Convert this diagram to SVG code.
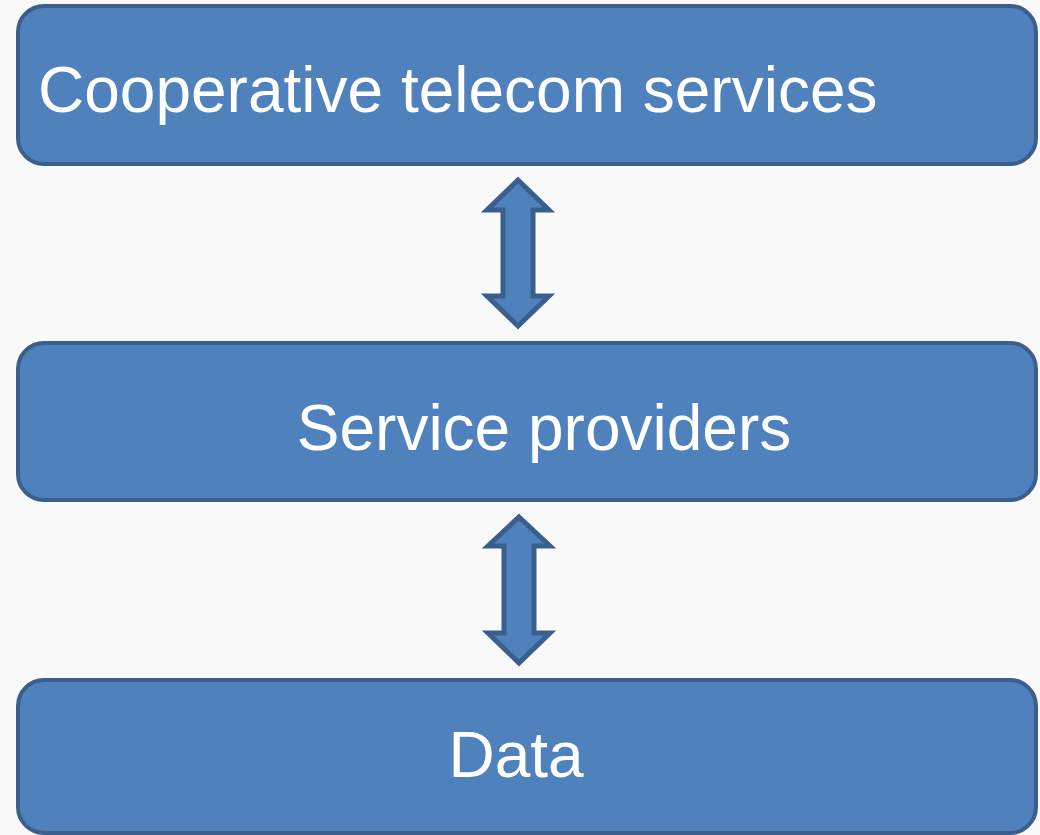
<svg xmlns="http://www.w3.org/2000/svg" width="1040" height="835" viewBox="0 0 1040 835">
<style>
.box{fill:#4f81bd;stroke:#3a5f8d;stroke-width:4}
.arr{fill:#4f81bd;stroke:#3a5f8d;stroke-width:5;stroke-linejoin:miter}
.lbl{font-family:"Liberation Sans",Arial,sans-serif;font-size:64px;fill:#ffffff}
</style>
<rect width="1040" height="835" fill="#f9f9f9"/>
<g id="node-cooperative">
<rect class="box" x="18" y="6" width="1018" height="158" rx="26"/>
<text class="lbl" x="38" y="112">Cooperative telecom services</text>
</g>
<g id="node-providers">
<rect class="box" x="18" y="343" width="1018" height="157" rx="26"/>
<text class="lbl" x="544" y="450" text-anchor="middle">Service providers</text>
</g>
<g id="node-data">
<rect class="box" x="18" y="680" width="1018" height="153" rx="26"/>
<text class="lbl" x="516" y="777" text-anchor="middle">Data</text>
</g>
<g id="connectors">
<polygon class="arr" points="518,180 549,210 533,210 533,296 549,296 518,326 487,296 503,296 503,210 487,210"/>
<polygon class="arr" points="519,517 550,546 534,546 534,633 550,633 519,663 488,633 504,633 504,546 488,546"/>
</g>
</svg>
